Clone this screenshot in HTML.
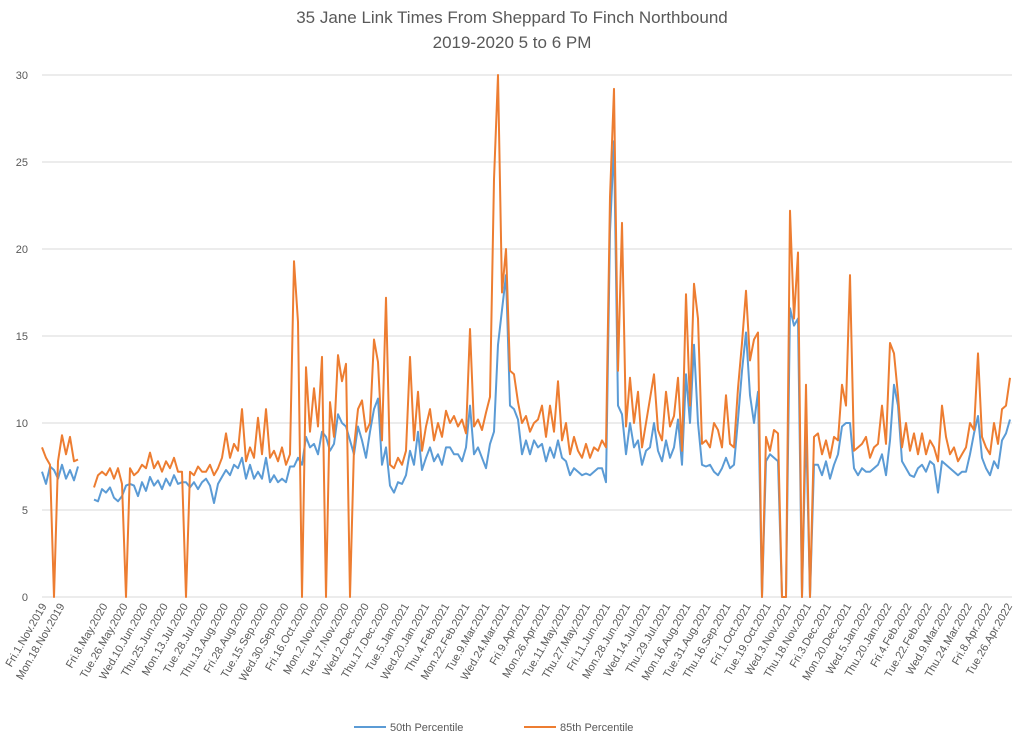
<!DOCTYPE html>
<html><head><meta charset="utf-8"><style>
body{margin:0;background:#fff;}
svg{display:block;font-family:"Liberation Sans",Calibri,sans-serif;}
</style></head><body>
<svg id="chart" width="1024" height="742" viewBox="0 0 1024 742">
<text x="512" y="23" text-anchor="middle" font-size="17" fill="#595959">35 Jane Link Times From Sheppard To Finch Northbound</text>
<text x="512" y="48" text-anchor="middle" font-size="17" fill="#595959">2019-2020 5 to 6 PM</text>
<g id="grid"></g>
<g id="yticks"></g>
<g id="xticks"></g>
<g id="series"></g>
<g>
<line x1="354" y1="727" x2="386" y2="727" stroke="#5b9bd5" stroke-width="2"/>
<text x="390" y="731" font-size="11" fill="#595959">50th Percentile</text>
<line x1="524" y1="727" x2="556" y2="727" stroke="#ed7d31" stroke-width="2"/>
<text x="560" y="731" font-size="11" fill="#595959">85th Percentile</text>
</g>
</svg>
<script>
const yTicks=[0,5,10,15,20,25,30];
const xLabels=["Fri.1.Nov.2019","Mon.18.Nov.2019","Fri.8.May.2020","Tue.26.May.2020","Wed.10.Jun.2020","Thu.25.Jun.2020","Mon.13.Jul.2020","Tue.28.Jul.2020","Thu.13.Aug.2020","Fri.28.Aug.2020","Tue.15.Sep.2020","Wed.30.Sep.2020","Fri.16.Oct.2020","Mon.2.Nov.2020","Tue.17.Nov.2020","Wed.2.Dec.2020","Thu.17.Dec.2020","Tue.5.Jan.2021","Wed.20.Jan.2021","Thu.4.Feb.2021","Mon.22.Feb.2021","Tue.9.Mar.2021","Wed.24.Mar.2021","Fri.9.Apr.2021","Mon.26.Apr.2021","Tue.11.May.2021","Thu.27.May.2021","Fri.11.Jun.2021","Mon.28.Jun.2021","Wed.14.Jul.2021","Thu.29.Jul.2021","Mon.16.Aug.2021","Tue.31.Aug.2021","Thu.16.Sep.2021","Fri.1.Oct.2021","Tue.19.Oct.2021","Wed.3.Nov.2021","Thu.18.Nov.2021","Fri.3.Dec.2021","Mon.20.Dec.2021","Wed.5.Jan.2022","Thu.20.Jan.2022","Fri.4.Feb.2022","Tue.22.Feb.2022","Wed.9.Mar.2022","Thu.24.Mar.2022","Fri.8.Apr.2022","Tue.26.Apr.2022"];
const labelStartIdx=[0.75,5.25];
const labelRegularStart=16;
const labelRegularStep=5.025;
const p85=[8.6,8.0,7.6,0,7.8,9.3,8.2,9.2,7.8,7.9,null,null,null,6.3,7.0,7.2,7.0,7.4,6.8,7.4,6.5,0,7.4,7.0,7.2,7.6,7.4,8.3,7.4,7.8,7.2,7.8,7.4,8.0,7.2,7.2,0,7.2,7.0,7.5,7.2,7.2,7.6,7.0,7.4,8.0,9.4,8.0,8.8,8.4,10.8,7.8,8.6,8.0,10.3,8.2,10.8,8.0,8.4,7.8,8.6,7.6,8.2,19.3,15.8,0,13.2,9.5,12.0,9.8,13.8,0,11.2,9.2,13.9,12.4,13.4,0,8.6,10.8,11.3,9.5,10.0,14.8,13.5,9.0,17.2,7.6,7.4,8.0,7.6,8.4,13.8,9.0,11.8,8.4,9.8,10.8,9.0,10.0,9.2,10.7,10.0,10.4,9.8,10.2,9.4,15.4,9.8,10.2,9.6,10.6,11.5,24.0,30,17.5,20.0,13.0,12.8,11.2,10.0,10.4,9.5,10.0,10.2,11.0,9.2,11.0,9.5,12.4,9.0,10.0,8.2,9.2,8.4,8.0,8.8,8.0,8.6,8.4,9.0,8.6,23.0,29.2,13.0,21.5,9.8,12.6,10.0,11.8,8.6,10.0,11.4,12.8,9.6,9.0,11.8,9.8,10.4,12.6,8.4,17.4,11.0,18.0,16.0,8.8,9.0,8.6,10.0,9.6,8.6,11.6,8.8,8.6,12.0,14.6,17.6,13.6,14.8,15.2,0,9.2,8.4,9.6,9.4,0,0,22.2,16.0,19.8,0,12.2,0,9.2,9.4,8.2,9.0,8.0,9.2,9.0,12.2,11.0,18.5,8.4,8.6,8.8,9.2,8.0,8.6,8.8,11.0,8.8,14.6,14.0,11.6,8.6,10.0,8.4,9.4,8.2,9.4,8.2,9.0,8.6,7.8,11.0,9.2,8.2,8.6,7.8,8.2,8.6,10.0,9.6,14.0,9.2,8.6,8.2,10.0,8.8,10.8,11.0,12.6];
const p50=[7.2,6.5,7.5,7.3,6.8,7.6,6.8,7.3,6.7,7.5,null,null,null,5.6,5.5,6.2,6.0,6.3,5.7,5.5,5.8,6.4,6.5,6.4,5.8,6.6,6.1,6.9,6.4,6.7,6.2,6.8,6.4,7.0,6.5,6.6,6.6,6.3,6.6,6.2,6.6,6.8,6.4,5.4,6.5,6.9,7.3,7.0,7.6,7.4,8.0,6.8,7.6,6.8,7.2,6.8,8.0,6.6,7.0,6.6,6.8,6.6,7.5,7.5,8.0,7.6,9.2,8.6,8.8,8.2,9.5,9.2,8.4,8.8,10.5,10.0,9.8,9.0,8.2,9.8,9.0,8.0,9.5,10.8,11.4,7.6,8.6,6.4,6.0,6.6,6.5,7.0,8.4,7.6,9.5,7.3,8.0,8.6,7.8,8.2,7.6,8.6,8.6,8.2,8.2,7.8,8.6,11.0,8.2,8.6,8.0,7.4,8.8,9.5,14.5,16.5,18.5,11.0,10.8,10.2,8.2,9.0,8.2,9.0,8.6,8.8,7.8,8.6,8.0,9.0,8.0,7.8,7.0,7.4,7.2,7.0,7.1,7.0,7.2,7.4,7.4,6.6,21.0,26.2,11.0,10.5,8.2,10.0,8.6,9.0,7.6,8.4,8.6,10.0,8.4,7.8,9.0,8.0,8.6,10.2,7.6,12.8,10.0,14.5,10.0,7.6,7.5,7.6,7.2,7.0,7.4,8.0,7.4,7.6,10.2,13.0,15.2,11.6,10.0,11.8,0,7.8,8.2,8.0,7.8,0,0,16.6,15.6,16.0,0,10.0,0,7.6,7.6,7.0,7.8,6.8,7.6,8.2,9.8,10.0,10.0,7.4,7.0,7.4,7.2,7.2,7.4,7.6,8.2,7.0,9.0,12.2,11.0,7.8,7.4,7.0,6.9,7.4,7.6,7.2,7.8,7.6,6.0,7.8,7.6,7.4,7.2,7.0,7.2,7.2,8.2,9.4,10.4,8.0,7.4,7.0,7.8,7.4,9.0,9.4,10.2];

const NS='http://www.w3.org/2000/svg';
const X0=42,X1=1010,Y0=597,Y30=75,GX1=1012;
const N=p85.length;
function xScale(i){return X0+(X1-X0)*i/(N-1);}
function yScale(v){return Y0-(Y0-Y30)*v/30;}

const grid=document.getElementById('grid');
const yt=document.getElementById('yticks');
yTicks.forEach(function(t){
  const l=document.createElementNS(NS,'line');
  l.setAttribute('x1',X0);l.setAttribute('x2',GX1);
  l.setAttribute('y1',yScale(t));l.setAttribute('y2',yScale(t));
  l.setAttribute('stroke','#d9d9d9');l.setAttribute('stroke-width','1');
  
  
  grid.appendChild(l);
  const tx=document.createElementNS(NS,'text');
  tx.setAttribute('x',28);tx.setAttribute('y',yScale(t)+4);
  tx.setAttribute('text-anchor','end');tx.setAttribute('font-size','11');tx.setAttribute('fill','#595959');
  tx.textContent=t;
  
  
  yt.appendChild(tx);
});

const xt=document.getElementById('xticks');
xLabels.forEach(function(lab,k){
  const idx=k<labelStartIdx.length?labelStartIdx[k]:labelRegularStart+labelRegularStep*(k-labelStartIdx.length);
  const x=xScale(idx)+2;
  const tx=document.createElementNS(NS,'text');
  tx.setAttribute('transform','translate('+x+',606) rotate(-60)');
  tx.setAttribute('text-anchor','end');tx.setAttribute('font-size','11');tx.setAttribute('fill','#595959');
  tx.textContent=lab;
  
  
  xt.appendChild(tx);
});

function drawSeries(vals,color,name){
  let d='',pen=false;
  vals.forEach(function(v,i){
    if(v===null){pen=false;return;}
    d+=(pen?'L':'M')+xScale(i).toFixed(1)+' '+yScale(v).toFixed(1)+' ';
    pen=true;
  });
  const p=document.createElementNS(NS,'path');
  p.setAttribute('d',d);p.setAttribute('fill','none');p.setAttribute('stroke',color);
  p.setAttribute('stroke-width','2');p.setAttribute('stroke-linejoin','round');
  
  
  document.getElementById('series').appendChild(p);
}
drawSeries(p50,'#5b9bd5','line-50th-percentile');
drawSeries(p85,'#ed7d31','line-85th-percentile');
</script>
</body></html>
